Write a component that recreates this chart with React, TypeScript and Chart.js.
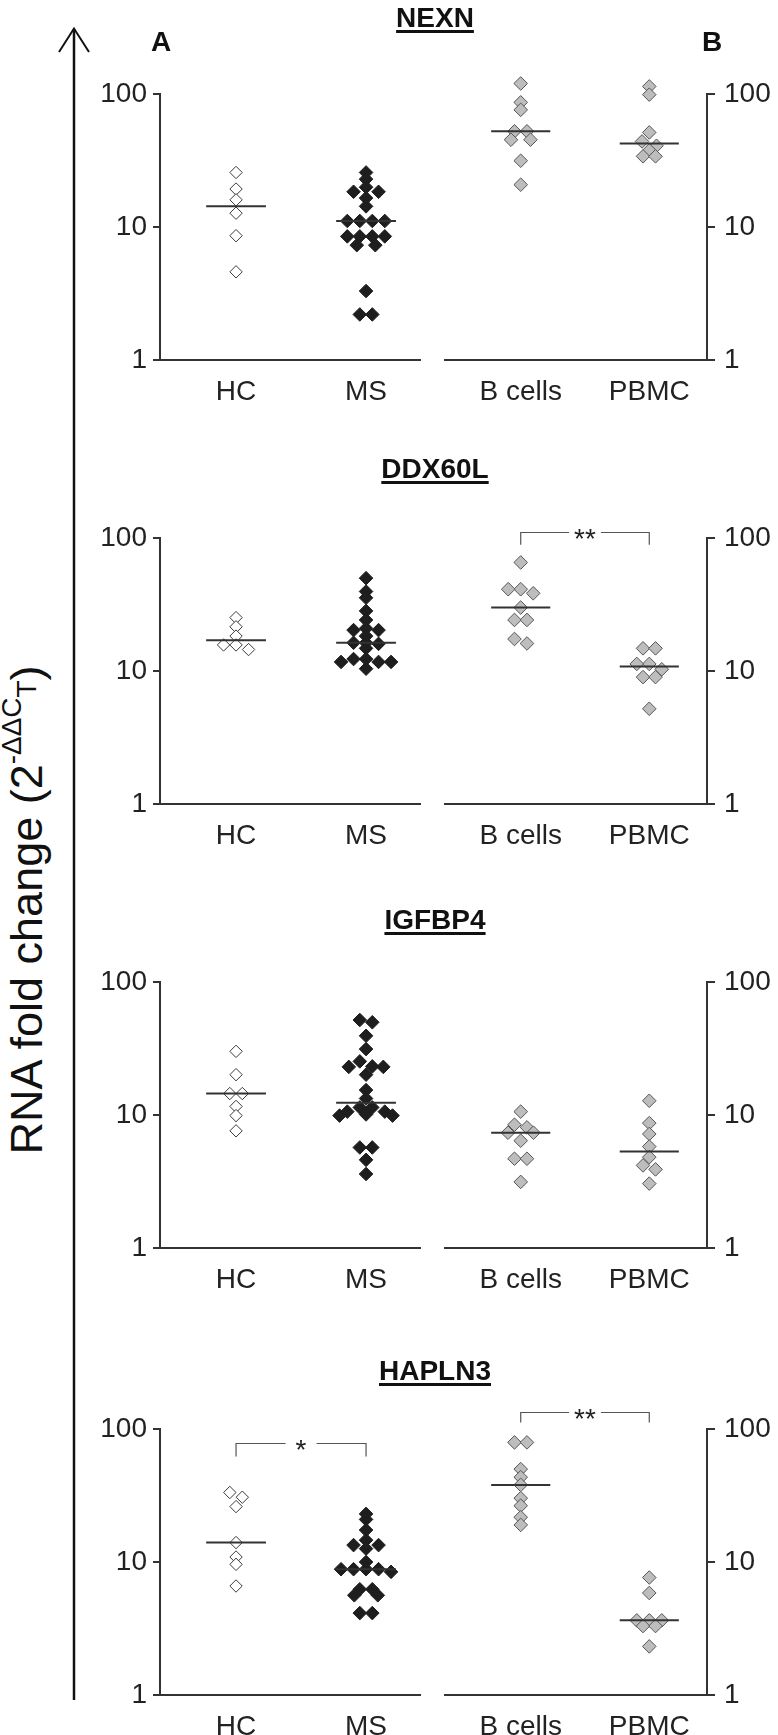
import React, { useEffect, useRef } from 'react';
import { Chart, registerables } from 'chart.js';

Chart.register(...registerables);

const FONT = "'Liberation Sans', Arial, Helvetica, sans-serif";
Chart.defaults.font.family = FONT;
Chart.defaults.color = '#222';

// ---------- data ----------
const geneTitles = ['NEXN', 'DDX60L', 'IGFBP4', 'HAPLN3'];
const leftCategories = ['HC', 'MS'];
const rightCategories = ['B cells', 'PBMC'];
const yTickValues = [1, 10, 100];

const nexnHC = [25.7, 19.3, 16.0, 12.7, 8.6, 4.6];
const nexnMS = [25.7, 22.9, 19.9, 18.4, 18.4, 16.5, 14.3, 11.1, 11.1, 11.1, 11.1, 8.5, 8.5, 8.5, 8.5, 7.3, 7.3, 3.3, 2.2, 2.2];
const nexnB = [120, 86.5, 76, 52.4, 52.4, 45.3, 45.3, 31.5, 20.8];
const nexnPBMC = [114, 98.9, 51.4, 44, 40.8, 37.7, 34, 34];

const ddxHC = [25.2, 21.5, 18.3, 15.7, 15.7, 14.5];
const ddxMS = [49.9, 39.6, 35.5, 28.3, 24.2, 20.9, 20.3, 20.3, 18.3, 16.3, 16.3, 16.0, 14.8, 12.3, 12.3, 11.7, 11.7, 11.7, 10.4];
const ddxB = [65.5, 41.2, 41.2, 38.4, 30, 24.2, 24.2, 17.4, 16.1];
const ddxPBMC = [14.8, 14.8, 11.3, 11.3, 10.3, 9.0, 9.0, 5.2];

const igfHC = [30.1, 20.1, 14.5, 14.5, 11.6, 9.9, 7.6];
const igfMS = [51.8, 49.8, 39.4, 31.3, 25.3, 23.2, 23.0, 23.0, 20.1, 15.4, 13.3, 11.4, 11.4, 10.6, 10.6, 10.1, 9.9, 9.9, 5.7, 5.7, 4.6, 3.6];
const igfB = [10.6, 8.45, 8.07, 7.36, 7.36, 6.41, 4.69, 4.69, 3.14];
const igfPBMC = [12.8, 8.69, 7.2, 5.79, 4.82, 4.18, 3.9, 3.05];

const hapHC = [33.3, 30.7, 26.1, 14.0, 10.9, 9.6, 6.6];
const hapMS = [23.0, 20.9, 17.4, 14.6, 13.4, 13.4, 12.6, 10.0, 8.83, 8.83, 8.83, 8.83, 8.43, 6.24, 6.24, 5.62, 5.62, 4.13, 4.13];
const hapB = [79.3, 79.3, 49.9, 43.4, 38.0, 30.2, 26.5, 21.7, 19.0];
const hapPBMC = [7.64, 5.85, 3.64, 3.64, 3.64, 3.30, 3.30, 2.32];

// significance annotations: group indices, label, bracket top / foot (fold change units)
const sigDdxRight = { from: 0, to: 1, label: '**', top: 110, bottom: 89 };
const sigHapLeft = { from: 0, to: 1, label: '*', top: 79, bottom: 62 };
const sigHapRight = { from: 0, to: 1, label: '**', top: 135, bottom: 112 };

// ---------- styles / layout ----------
const STYLE_OPEN = { bg: '#ffffff', border: '#3a3a3a', radius: 6.2, bw: 1 };
const STYLE_FILLED = { bg: '#1e1e1e', border: '#1e1e1e', radius: 6.8, bw: 1 };
const STYLE_GRAY = { bg: '#bdbdbd', border: '#555555', radius: 6.8, bw: 1 };

const ROW_TOPS = [94, 538, 982, 1429];
const ROW_H = 266; // pixel span of the 1..100 axis
const TITLE_BASELINES = [28, 479, 930, 1381];
const EXTRA = 60; // room above the 100 tick for points / brackets
const PAD_TOP = 30;
const X_AXIS_H = 50;
const Y_MAX = Math.pow(10, 2 + EXTRA / (ROW_H / 2));

type Sig = { from: number; to: number; label: string; top: number; bottom: number } | null;
type Group = { values: number[]; style: { bg: string; border: string; radius: number; bw: number } };

function median(arr: number[]) {
  const s = [...arr].sort((a, b) => a - b);
  const n = s.length;
  return n % 2 ? s[(n - 1) / 2] : (s[n / 2 - 1] + s[n / 2]) / 2;
}

// Prism-like symmetric beeswarm, computed in pixel space
function swarm(pys: number[], step = 12.5, minDist = 11.5, rowTol = 5.5): number[] {
  const n = pys.length;
  const idx = pys.map((_, i) => i).sort((a, b) => pys[a] - pys[b]);
  const rows: { start: number; items: number[] }[] = [];
  idx.forEach((i) => {
    const last = rows[rows.length - 1];
    if (last && pys[i] - last.start <= rowTol) last.items.push(i);
    else rows.push({ start: pys[i], items: [i] });
  });
  const offs = new Array(n).fill(0);
  const placed: { x: number; y: number }[] = [];
  rows.filter((r) => r.items.length === 1).forEach((r) => {
    placed.push({ x: 0, y: pys[r.items[0]] });
  });
  const multi = rows
    .filter((r) => r.items.length > 1)
    .sort((a, b) => b.items.length - a.items.length || a.start - b.start);
  multi.forEach((r) => {
    const m = r.items.length;
    const pattern = Array.from({ length: m }, (_, k) => (k - (m - 1) / 2) * step).sort(
      (a, b) => Math.abs(a) - Math.abs(b) || a - b
    );
    let pos = pattern;
    for (let g = 0; g < 80; g += 0.5) {
      pos = pattern.map((p) => (p === 0 ? 0 : p + Math.sign(p) * g));
      let ok = true;
      for (let k = 0; k < m && ok; k++) {
        if (pos[k] === 0) continue;
        const py = pys[r.items[k]];
        for (const q of placed) {
          if (Math.abs(q.x - pos[k]) + Math.abs(q.y - py) < minDist) {
            ok = false;
            break;
          }
        }
      }
      if (ok) break;
    }
    r.items.forEach((i, k) => {
      offs[i] = pos[k];
      placed.push({ x: pos[k], y: pys[i] });
    });
  });
  return offs;
}

const bracketPlugin = {
  id: 'sigBracket',
  afterDatasetsDraw(chart: any, _args: any, opts: any) {
    if (!opts || !opts.label) return;
    const { ctx } = chart;
    const x = chart.scales.x;
    const y = chart.scales.y;
    const xa = x.getPixelForValue(opts.from);
    const xb = x.getPixelForValue(opts.to);
    const yt = Math.round(y.getPixelForValue(opts.top)) + 0.5;
    const yb = y.getPixelForValue(opts.bottom);
    ctx.save();
    ctx.font = `28px ${FONT}`;
    const w = ctx.measureText(opts.label).width;
    const gap = Math.max(w + 10, 31) / 2;
    const mid = (xa + xb) / 2;
    ctx.strokeStyle = '#555';
    ctx.lineWidth = 1.2;
    ctx.beginPath();
    ctx.moveTo(xa, yb);
    ctx.lineTo(xa, yt);
    ctx.lineTo(mid - gap, yt);
    ctx.moveTo(mid + gap, yt);
    ctx.lineTo(xb, yt);
    ctx.lineTo(xb, yb);
    ctx.stroke();
    ctx.fillStyle = '#222';
    ctx.textAlign = 'center';
    ctx.textBaseline = 'alphabetic';
    ctx.fillText(opts.label, mid, yt + 0.57 * 28);
    ctx.restore();
  },
};

// y axis line drawn only over the 1..100 span of the log scale
const axisLinePlugin = {
  id: 'axisLine',
  afterDraw(chart: any) {
    const y = chart.scales.y;
    const { ctx, chartArea } = chart;
    const xPix = y.position === 'left' ? Math.round(chartArea.left) : Math.round(chartArea.right);
    const yTop = y.getPixelForValue(yTickValues[yTickValues.length - 1]);
    const yBot = y.getPixelForValue(yTickValues[0]);
    ctx.save();
    ctx.strokeStyle = '#333';
    ctx.lineWidth = 2;
    ctx.beginPath();
    ctx.moveTo(xPix, yTop - 1);
    ctx.lineTo(xPix, yBot + 1);
    ctx.stroke();
    ctx.restore();
  },
};

function Panel(props: {
  left: number;
  top: number;
  side: 'A' | 'B';
  categories: string[];
  groups: Group[];
  sig: Sig;
}) {
  const { left, top, side, categories, groups, sig } = props;
  const ref = useRef<HTMLCanvasElement | null>(null);
  const isLeft = side === 'A';
  const width = isLeft ? 340 : 343;
  const height = PAD_TOP + EXTRA + ROW_H + X_AXIS_H;

  useEffect(() => {
    if (!ref.current) return;
    const medianSets = groups.map((g, gi) => {
      const med = median(g.values);
      return {
        data: [
          { x: gi - 0.23, y: med },
          { x: gi + 0.23, y: med },
        ],
        showLine: true,
        borderColor: '#333',
        borderWidth: 2,
        pointRadius: 0,
        order: 0,
        clip: false as any,
      };
    });
    const pointSets = groups.map((g, gi) => ({
      data: g.values.map((v) => ({ x: gi, y: v })),
      pointStyle: 'rectRot',
      pointRadius: g.style.radius,
      pointBackgroundColor: g.style.bg,
      pointBorderColor: g.style.border,
      pointBorderWidth: g.style.bw,
      showLine: false,
      order: 1,
      clip: false as any,
    }));
    const chart = new Chart(ref.current, {
      type: 'scatter',
      data: { datasets: [...medianSets, ...pointSets] as any },
      options: {
        responsive: false,
        animation: false,
        devicePixelRatio: 1,
        events: [],
        layout: {
          padding: isLeft
            ? { top: PAD_TOP, right: 10, left: 0, bottom: 0 }
            : { top: PAD_TOP, left: 10, right: 0, bottom: 0 },
        },
        plugins: {
          legend: { display: false },
          tooltip: { enabled: false },
          sigBracket: sig || {},
        } as any,
        scales: {
          x: {
            type: 'linear',
            bounds: 'data',
            min: isLeft ? -0.585 : -0.589,
            max: isLeft ? 1.415 : 1.449,
            grid: { display: false },
            border: { display: true, color: '#333', width: 2 },
            afterBuildTicks: (s: any) => {
              s.ticks = categories.map((_, i) => ({ value: i }));
            },
            afterFit: (s: any) => {
              s.height = X_AXIS_H;
            },
            ticks: {
              callback: (v: any) => categories[v as number] ?? '',
              font: { size: 28, family: FONT },
              color: '#222',
              padding: 7,
              maxRotation: 0,
              autoSkip: false,
            },
          },
          y: {
            type: 'logarithmic',
            position: isLeft ? 'left' : 'right',
            bounds: 'data',
            min: 1,
            max: Y_MAX,
            afterBuildTicks: (s: any) => {
              s.ticks = yTickValues.map((v) => ({ value: v }));
            },
            afterFit: (s: any) => {
              s.width = isLeft ? 70 : 71;
            },
            ticks: {
              callback: (v: any) => String(v),
              font: { size: 28, family: FONT },
              color: '#222',
              padding: isLeft ? 6 : 9,
              autoSkip: false,
            },
            grid: {
              drawOnChartArea: false,
              drawTicks: true,
              tickLength: isLeft ? 7 : 8,
              color: '#333',
              lineWidth: 2,
            },
            border: { display: false },
          },
        } as any,
      },
      plugins: [bracketPlugin, axisLinePlugin],
    });

    // lay points out as a symmetric swarm using the chart's own scales
    const xs: any = chart.scales.x;
    const ys: any = chart.scales.y;
    const ppu = xs.getPixelForValue(1) - xs.getPixelForValue(0);
    groups.forEach((g, gi) => {
      const pys = g.values.map((v) => ys.getPixelForValue(v));
      const offs = swarm(pys);
      (chart.data.datasets[groups.length + gi] as any).data = g.values.map((v, k) => ({
        x: gi + offs[k] / ppu,
        y: v,
      }));
    });
    chart.update('none');
    return () => chart.destroy();
  }, []);

  return (
    <canvas
      ref={ref}
      width={width}
      height={height}
      style={{ position: 'absolute', left, top, width, height }}
    />
  );
}

const rowsData: { left: Group[]; right: Group[]; sigL: Sig; sigR: Sig }[] = [
  {
    left: [
      { values: nexnHC, style: STYLE_OPEN },
      { values: nexnMS, style: STYLE_FILLED },
    ],
    right: [
      { values: nexnB, style: STYLE_GRAY },
      { values: nexnPBMC, style: STYLE_GRAY },
    ],
    sigL: null,
    sigR: null,
  },
  {
    left: [
      { values: ddxHC, style: STYLE_OPEN },
      { values: ddxMS, style: STYLE_FILLED },
    ],
    right: [
      { values: ddxB, style: STYLE_GRAY },
      { values: ddxPBMC, style: STYLE_GRAY },
    ],
    sigL: null,
    sigR: sigDdxRight,
  },
  {
    left: [
      { values: igfHC, style: STYLE_OPEN },
      { values: igfMS, style: STYLE_FILLED },
    ],
    right: [
      { values: igfB, style: STYLE_GRAY },
      { values: igfPBMC, style: STYLE_GRAY },
    ],
    sigL: null,
    sigR: null,
  },
  {
    left: [
      { values: hapHC, style: STYLE_OPEN },
      { values: hapMS, style: STYLE_FILLED },
    ],
    right: [
      { values: hapB, style: STYLE_GRAY },
      { values: hapPBMC, style: STYLE_GRAY },
    ],
    sigL: sigHapLeft,
    sigR: sigHapRight,
  },
];

const boldText: React.CSSProperties = {
  position: 'absolute',
  fontFamily: FONT,
  fontWeight: 'bold',
  fontSize: 28,
  lineHeight: '28px',
  color: '#111',
  whiteSpace: 'nowrap',
  transform: 'translateX(-50%)',
};

export default function App() {
  return (
    <div
      style={{
        position: 'absolute',
        left: 0,
        top: 0,
        width: 778,
        height: 1735,
        background: '#fff',
        overflow: 'hidden',
        fontFamily: FONT,
      }}
    >
      <svg style={{ position: 'absolute', left: 0, top: 0 }} width={778} height={1735}>
        <line x1={74} y1={29} x2={74} y2={1700} stroke="#111" strokeWidth={2.5} />
        <polyline points="59,52 74,28.5 89,52" fill="none" stroke="#111" strokeWidth={2} />
      </svg>
      <div
        style={{
          position: 'absolute',
          left: 29,
          top: 910,
          transform: 'translate(-50%, -50%) rotate(-90deg)',
          whiteSpace: 'nowrap',
          fontSize: 45,
          lineHeight: '45px',
          color: '#111',
        }}
      >
        RNA fold change (2
        <span style={{ fontSize: '0.62em', position: 'relative', top: '-0.75em' }}>
          -ΔΔC
          <span style={{ position: 'relative', top: '0.55em' }}>T</span>
        </span>
        )
      </div>
      {rowsData.map((r, i) => (
        <React.Fragment key={i}>
          <Panel
            left={90}
            top={ROW_TOPS[i] - EXTRA - PAD_TOP}
            side="A"
            categories={leftCategories}
            groups={r.left}
            sig={r.sigL}
          />
          <Panel
            left={435}
            top={ROW_TOPS[i] - EXTRA - PAD_TOP}
            side="B"
            categories={rightCategories}
            groups={r.right}
            sig={r.sigR}
          />
          <div
            style={{
              ...boldText,
              left: 435,
              top: TITLE_BASELINES[i] - 23.7,
              textDecoration: 'underline',
              textDecorationThickness: '3px',
              textUnderlineOffset: '3px',
            }}
          >
            {geneTitles[i]}
          </div>
        </React.Fragment>
      ))}
      <div style={{ ...boldText, left: 161, top: 52 - 23.7 }}>A</div>
      <div style={{ ...boldText, left: 712, top: 52 - 23.7 }}>B</div>
    </div>
  );
}
